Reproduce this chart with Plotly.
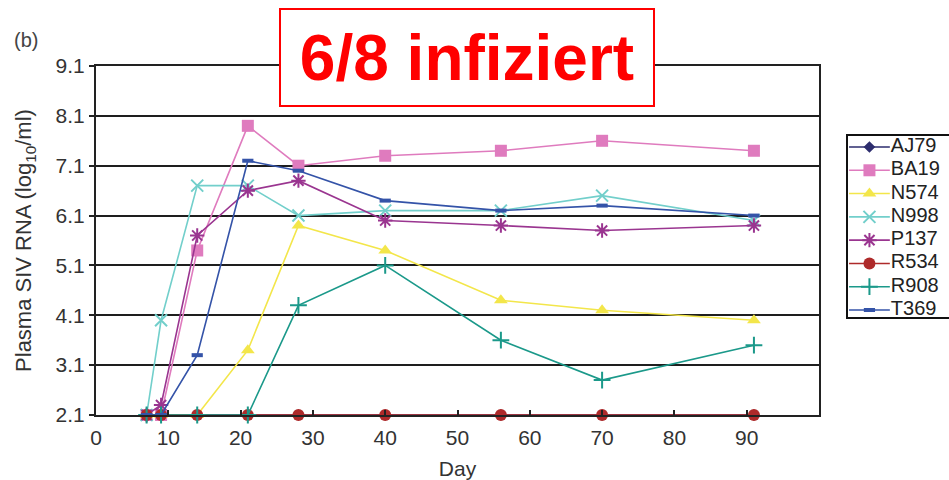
import plotly.graph_objects as go

# Sampling days and viral load per animal (log10 copies/ml)
days = [7, 9, 14, 21, 28, 40, 56, 70, 91]
animals = ["AJ79", "BA19", "N574", "N998", "P137", "R534", "R908", "T369"]
AJ79 = [2.1, 2.1, 2.1, 2.1, 2.1, 2.1, 2.1, 2.1, 2.1]
BA19 = [2.1, 2.1, 5.4, 7.9, 7.1, 7.3, 7.4, 7.6, 7.4]
N574 = [2.1, 2.1, 2.1, 3.4, 5.9, 5.4, 4.4, 4.2, 4.0]
N998 = [2.1, 4.0, 6.7, 6.7, 6.1, 6.2, 6.2, 6.5, 6.0]
P137 = [2.1, 2.3, 5.7, 6.6, 6.8, 6.0, 5.9, 5.8, 5.9]
R534 = [2.1, 2.1, 2.1, 2.1, 2.1, 2.1, 2.1, 2.1, 2.1]
R908 = [2.1, 2.1, 2.1, 2.1, 4.3, 5.1, 3.6, 2.8, 3.5]
T369 = [2.1, 2.1, 3.3, 7.2, 7.0, 6.4, 6.2, 6.3, 6.1]
series = [AJ79, BA19, N574, N998, P137, R534, R908, T369]

y_ticks = [2.1, 3.1, 4.1, 5.1, 6.1, 7.1, 8.1, 9.1]
y_tick_labels = ["2.1", "3.1", "4.1", "5.1", "6.1", "7.1", "8.1", "9.1"]
x_ticks = [0, 10, 20, 30, 40, 50, 60, 70, 80, 90]

# Per-animal styling: colour, marker symbol, marker size, marker outline width
styles = {
    "AJ79": dict(color="#2D2D6E", symbol="diamond", size=9, lw=0),
    "BA19": dict(color="#DF7BBE", symbol="square", size=12, lw=0),
    "N574": dict(color="#F3E64A", symbol="triangle-up", size=12, lw=0),
    "N998": dict(color="#72CFCB", symbol="x-thin", size=12, lw=2),
    "P137": dict(color="#9A3590", symbol="asterisk", size=12, lw=2),
    "R534": dict(color="#AE2A2A", symbol="circle", size=12, lw=0),
    "R908": dict(color="#1B998A", symbol="cross-thin", size=12, lw=2),
    "T369": dict(color="#3453A8", symbol="line-ew", size=8, lw=4),
}

FONT = "Liberation Sans, Arial, sans-serif"
W, H = 949, 480
L, R, T, B = 96, 0, 66, 65
plot_w = W - L - R
main_right = 819
leg_left, leg_top, leg_bottom = 847, 135, 318


def px_x(px):
    return (px - L) / plot_w


def px_y(py):
    return (H - B - py) / (H - T - B)


fig = go.Figure()

for name, vals in zip(animals, series):
    st = styles[name]
    fig.add_trace(go.Scatter(
        x=days, y=vals, mode="lines+markers", name=name,
        line=dict(color=st["color"], width=1.6),
        marker=dict(symbol=st["symbol"], size=st["size"], color=st["color"],
                    line=dict(color=st["color"], width=st["lw"])),
        cliponaxis=False, showlegend=False,
        xaxis="x", yaxis="y",
    ))

# Legend panel: sample line with marker and the animal name
for i, name in enumerate(animals):
    st = styles[name]
    fig.add_trace(go.Scatter(
        x=[0.02, 0.42], y=[i, i], mode="lines",
        line=dict(color=st["color"], width=1.6),
        showlegend=False, hoverinfo="skip", xaxis="x2", yaxis="y2",
    ))
    fig.add_trace(go.Scatter(
        x=[0.22], y=[i], mode="markers",
        marker=dict(symbol=st["symbol"], size=st["size"], color=st["color"],
                    line=dict(color=st["color"], width=st["lw"])),
        showlegend=False, hoverinfo="skip", xaxis="x2", yaxis="y2",
    ))
    fig.add_trace(go.Scatter(
        x=[0.43], y=[i], mode="text", text=[name], textposition="middle right",
        textfont=dict(family=FONT, size=20, color="#222222"),
        showlegend=False, hoverinfo="skip", xaxis="x2", yaxis="y2",
    ))

fig.update_layout(
    width=W, height=H,
    margin=dict(l=L, r=R, t=T, b=B),
    paper_bgcolor="white", plot_bgcolor="white",
    font=dict(family=FONT, color="#333333"),
    xaxis=dict(
        domain=[0, px_x(main_right)], range=[0, 100],
        tickvals=x_ticks, ticks="inside", ticklen=5, tickwidth=2, tickcolor="#222222",
        showline=True, linecolor="#222222", linewidth=2, mirror=True,
        showgrid=False, zeroline=False, ticklabelstandoff=3,
        tickfont=dict(size=21, color="#333333"),
        title=dict(text="Day", font=dict(size=21, color="#333333"), standoff=14),
    ),
    yaxis=dict(
        range=[2.1, 9.1], tickvals=y_ticks, ticktext=y_tick_labels,
        ticks="outside", ticklen=5, tickwidth=2, tickcolor="#222222",
        showline=True, linecolor="#222222", linewidth=2, mirror=True,
        showgrid=True, gridcolor="#1E1E1E", gridwidth=2, zeroline=False,
        tickfont=dict(size=21, color="#333333"),
        title=dict(text="Plasma SIV RNA (log<sub>10</sub>/ml)",
                   font=dict(size=22, color="#333333"), standoff=18),
    ),
    xaxis2=dict(domain=[px_x(leg_left), 1.0], range=[0, 1], visible=False,
                fixedrange=True, anchor="y2"),
    yaxis2=dict(domain=[px_y(leg_bottom), px_y(leg_top)],
                range=[7 + (leg_bottom - 310) / 23.3, -(147 - leg_top) / 23.3],
                visible=False, fixedrange=True, anchor="x2"),
    shapes=[dict(type="rect", xref="paper", yref="paper",
                 x0=px_x(leg_left), x1=1.02, y0=px_y(leg_bottom), y1=px_y(leg_top),
                 line=dict(color="#111111", width=2), fillcolor="rgba(0,0,0,0)")],
    annotations=[
        dict(text="(b)", xref="paper", yref="paper", x=px_x(26), y=px_y(40),
             xanchor="center", yanchor="middle", showarrow=False,
             font=dict(size=20, color="#444444")),
        dict(text="<b>6/8 infiziert</b>", xref="paper", yref="paper",
             x=px_x(467), y=px_y(57.5), xanchor="center", yanchor="middle",
             showarrow=False, width=370, height=93, align="center", valign="middle",
             bgcolor="white", bordercolor="#FF0000", borderwidth=2, borderpad=1,
             font=dict(size=64, color="#FF0000")),
    ],
)

fig.write_html("out.html")
